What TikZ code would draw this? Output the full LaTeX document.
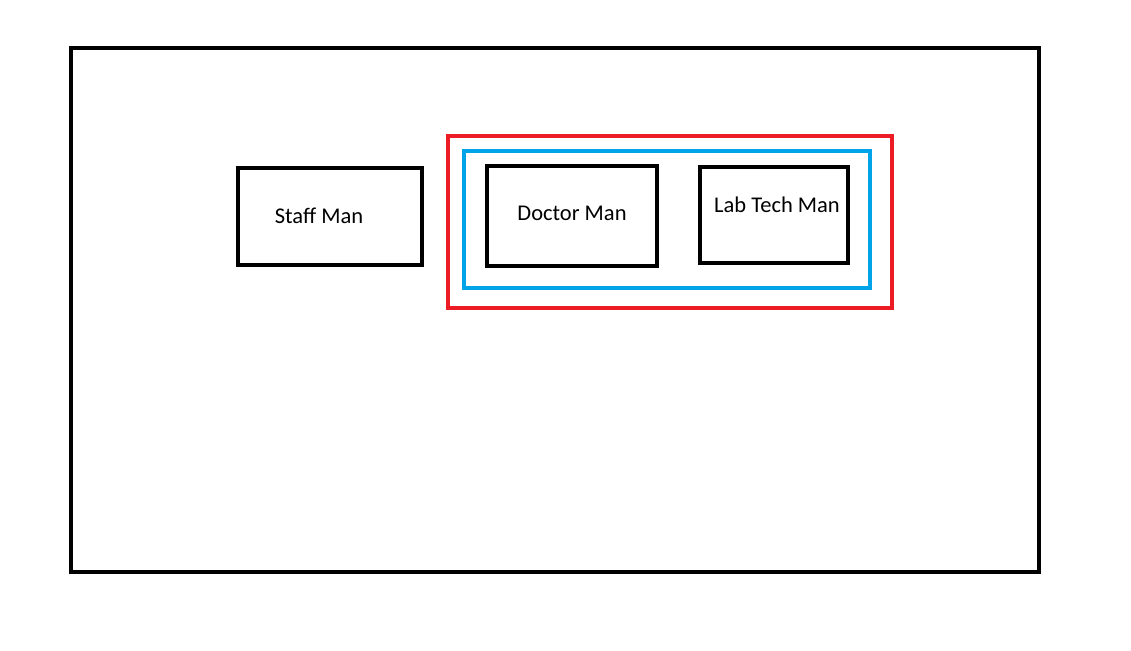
\documentclass[tikz,border=0pt]{standalone}
\usepackage{fontspec}
\setmainfont{Carlito}
\definecolor{paintred}{RGB}{237,28,36}
\definecolor{paintblue}{RGB}{0,162,232}
\tikzset{
  manbox/.style={draw, line width=4pt, inner sep=0pt, rectangle},
  manlabel/.style={font=\fontsize{22.5}{26}\selectfont, inner sep=0pt}
}
\begin{document}
\begin{tikzpicture}[x=1pt,y=1pt,yscale=-1,xscale=1]

% --- 1. canvas ---
\useasboundingbox (0,0) rectangle (1131,650);
\draw [line width=4pt] (71,48) rectangle (1039,572);

% --- 2. red and blue groups ---
\draw [paintred, line width=4pt] (448,136) rectangle (892,308);
\draw [paintblue, line width=4pt] (464,151) rectangle (870,288);

% --- 3. boxes ---
\node [manbox, minimum width=184pt, minimum height=97pt] (staff) at (330,216.5) {};
\node [manbox, minimum width=170pt, minimum height=100pt] (doctor) at (572,216) {};
\node [manbox, minimum width=148pt, minimum height=96pt] (labtech) at (774,215) {};

% --- 4. labels ---
\node [manlabel] (stafftext) at (319,216) {Staff Man};
\node [manlabel] (doctortext) at (572,213) {Doctor Man};
\node [manlabel] (labtechtext) at (777,205) {Lab Tech Man};

\end{tikzpicture}
\end{document}
